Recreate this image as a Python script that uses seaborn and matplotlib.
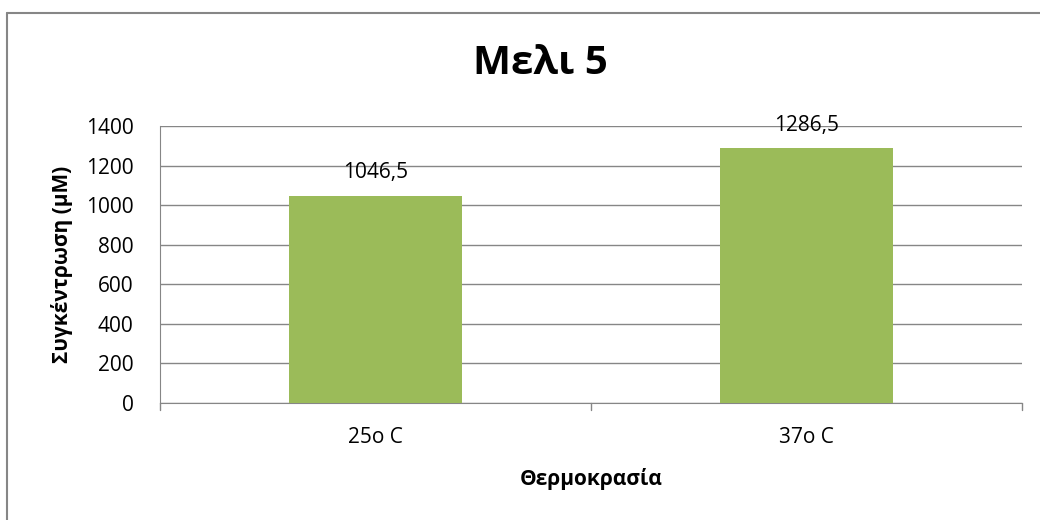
import matplotlib
matplotlib.use("Agg")
import matplotlib.pyplot as plt
import seaborn as sns
import pandas as pd
from matplotlib.lines import Line2D

# data
categories = ["25o C", "37o C"]
values = [1046.5, 1286.5]
value_labels = ["1046,5", "1286,5"]
y_ticks = [0, 200, 400, 600, 800, 1000, 1200, 1400]

sns.set_style("white")
plt.rcParams["font.family"] = ["Open Sans", "Noto Sans", "DejaVu Sans"]
plt.rcParams["text.color"] = "black"
plt.rcParams["xtick.color"] = "black"
plt.rcParams["ytick.color"] = "black"
plt.rcParams["axes.labelcolor"] = "black"

df = pd.DataFrame({"temp": categories, "conc": values})

fig = plt.figure(figsize=(10.4, 5.2), dpi=100)
ax = fig.add_axes([160 / 1040, 1 - 403 / 520, (1022 - 160) / 1040, (403 - 126) / 520])

sns.barplot(data=df, x="temp", y="conc", color="#9BBB59", saturation=1,
            width=0.4, linewidth=0, ax=ax, zorder=3)

ax.set_ylim(0, 1400)
ax.set_xlim(-0.5, 1.5)
ax.set_yticks(y_ticks)
ax.set_yticklabels([str(t) for t in y_ticks], fontsize=15)
ax.tick_params(axis="x", labelsize=15, pad=17, length=0)
ax.tick_params(axis="y", length=5, color="#868686", width=1, pad=14, labelcolor="black")

# gridlines and frame like Excel
ax.yaxis.grid(True, color="#868686", linewidth=1, zorder=0)
for side in ["top", "right"]:
    ax.spines[side].set_visible(False)
ax.spines["left"].set_color("#868686")
ax.spines["bottom"].set_color("#868686")

# category boundary ticks on x axis
for xb in [-0.5, 0.5, 1.5]:
    ax.plot([xb, xb], [0, -0.025], transform=ax.get_xaxis_transform(),
            color="#868686", linewidth=1, clip_on=False)

for i, (v, lab) in enumerate(zip(values, value_labels)):
    ax.annotate(lab, (i, v), xytext=(0, 9), textcoords="offset points",
                ha="center", va="bottom", fontsize=15)

ax.set_xlabel("Θερμοκρασία", fontsize=15, fontweight="bold", labelpad=15)
ax.set_ylabel("Συγκέντρωση (μΜ)", fontsize=15, fontweight="bold", labelpad=9)

fig.text(0.52, 1 - 63 / 520, "Μελι 5", ha="center", va="center",
         fontsize=29, fontweight="bold")

# outer chart border (top and left visible)
fig.add_artist(Line2D([7 / 1040, 7 / 1040], [0, 1 - 13 / 520], color="#868686", linewidth=1.5))
fig.add_artist(Line2D([7 / 1040, 1], [1 - 13 / 520, 1 - 13 / 520], color="#868686", linewidth=1.5))

fig.savefig("out.png", dpi=100)
